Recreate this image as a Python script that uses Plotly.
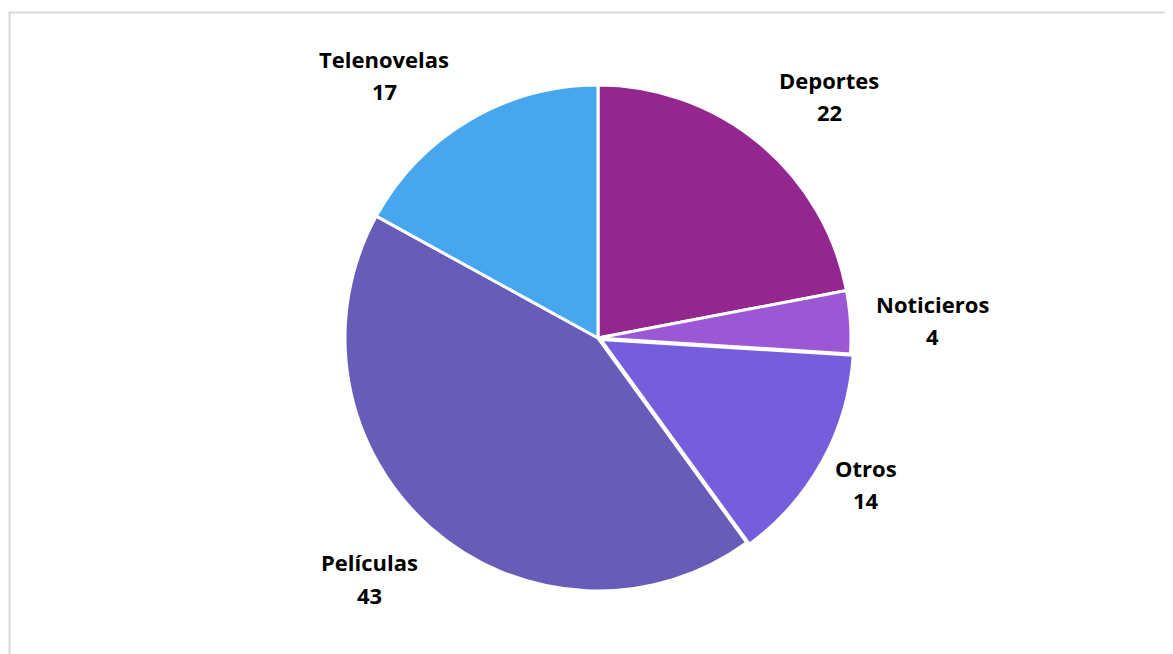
import plotly.graph_objects as go

categories = ["Deportes", "Noticieros", "Otros", "Películas", "Telenovelas"]
values = [22, 4, 14, 43, 17]
colors = ["#93278f", "#9c57d4", "#765ddb", "#675db8", "#47a7ee"]
pulls = [0, 0, 0.012, 0, 0]
# label text positions (pixels from top-left), name line and value line
label_pos = {
    "Deportes": (829, 80, 112),
    "Noticieros": (932, 304, 336),
    "Otros": (866, 468, 500),
    "Películas": (369, 562, 595),
    "Telenovelas": (384, 59, 91),
}

W, H = 1173, 654
OFF = 8  # page body margin offset
cx, cy, r = 598 - OFF, 338 - OFF, 253 * (1 + max(pulls))

fig = go.Figure(go.Pie(
    labels=categories, values=values, sort=False, direction="clockwise", rotation=0,
    pull=pulls,
    marker=dict(colors=colors, line=dict(color="white", width=3)),
    textinfo="none", hoverinfo="label+value", showlegend=False,
    domain=dict(x=[(cx - r) / W, (cx + r) / W], y=[1 - (cy + r) / H, 1 - (cy - r) / H]),
))

font = dict(family="Open Sans, Lato, sans-serif", size=22, color="#000000")
anns = []
for cat, v in zip(categories, values):
    x, y1, y2 = label_pos[cat]
    x, y1, y2 = x - OFF, y1 - OFF, y2 - OFF
    anns.append(dict(x=x / W, y=1 - y1 / H, xref="paper", yref="paper", text=f"<b>{cat}</b>",
                     showarrow=False, font=font, xanchor="center", yanchor="middle"))
    anns.append(dict(x=x / W, y=1 - y2 / H, xref="paper", yref="paper", text=f"<b>{v}</b>",
                     showarrow=False, font=font, xanchor="center", yanchor="middle"))

fig.update_layout(
    width=W, height=H, margin=dict(l=0, r=0, t=0, b=0),
    paper_bgcolor="white", plot_bgcolor="white",
    annotations=anns,
    shapes=[dict(type="rect", xref="paper", yref="paper", x0=(9.5 - OFF) / W, x1=1.05, y0=-0.05,
                 y1=1 - (12.5 - OFF) / H,
                 line=dict(color="#d9d9d9", width=2), layer="below")],
)
fig.write_html("out.html")
